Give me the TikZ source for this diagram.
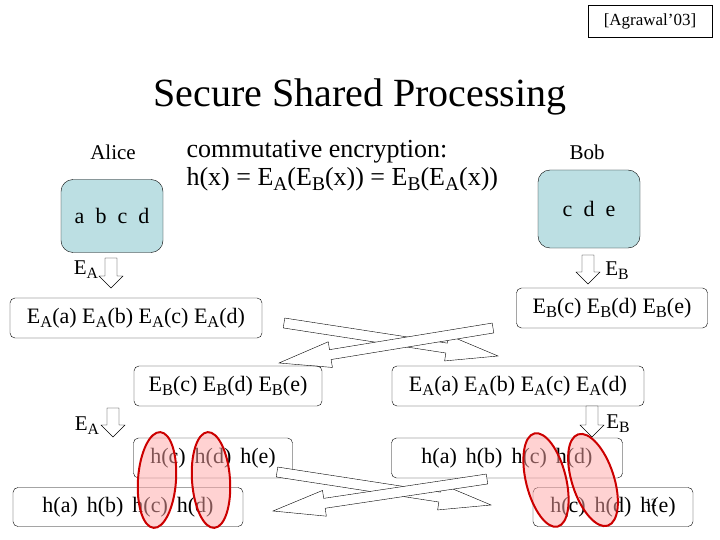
\documentclass[tikz,border=0pt]{standalone}
\usepackage{fontspec}
\setmainfont{Liberation Serif}
\usetikzlibrary{calc,shapes.geometric}
\definecolor{alicebox}{HTML}{BCDFE3}
\newcommand\sbx[1]{\raisebox{-0.4ex}{\scalebox{0.75}{#1}}}
\newcommand\EE[1]{E\sbx{#1}}
\newcommand\gap{\hspace{9pt}}
\newcommand\harrow[5]{%
  \coordinate (hc) at ($(#2)!#5pt!(#1)$);
  \draw[fill=white,line join=miter] ($(#1)!#3pt!90:(#2)$) -- ($(hc)!#3pt!-90:(#1)$) -- ($(hc)!#4pt!-90:(#1)$) -- (#2)
    -- ($(hc)!#4pt!90:(#1)$) -- ($(hc)!#3pt!90:(#1)$) -- ($(#1)!#3pt!-90:(#2)$) -- cycle;}
\begin{document}
\begin{tikzpicture}[x=1pt,y=-1pt,
  box/.style={draw,rounded corners=5pt,inner sep=0pt,font=\fontsize{22}{24}\selectfont},
  lbl/.style={font=\fontsize{21}{23}\selectfont},
  hl/.style={ellipse,draw=red!80!black,line width=2pt,fill=red!35,fill opacity=0.5,minimum width=38pt,minimum height=96pt}]
\useasboundingbox (0,0) rectangle (720,540);
\node[draw,inner sep=0pt,minimum width=124pt,minimum height=32pt,font=\fontsize{17}{19}\selectfont] (ref) at (650,21) {[Agrawal’03]};
\node[font=\fontsize{40}{44}\selectfont] (title) at (360,97) {Secure Shared Processing};
\node[lbl] (alice) at (113,152) {Alice};
\node[lbl] (bob) at (587,152) {Bob};
\node[anchor=west,align=left,font=\fontsize{26}{28}\selectfont] (comm) at (183,166) {commutative encryption:\\h(x) = \EE{A}(\EE{B}(x)) = \EE{B}(\EE{A}(x))};
\node[box,fill=alicebox,rounded corners=12pt,minimum width=102pt,minimum height=73pt,font=\fontsize{22}{24}\selectfont] (abox) at (112,216) {a\ \ b\ \ c\ \ d};
\node[box,fill=alicebox,rounded corners=12pt,minimum width=102pt,minimum height=78pt,font=\fontsize{22}{24}\selectfont] (bbox) at (589,209) {c\ \ d\ \ e};
% down arrows
\coordinate (a1s) at (111,258); \coordinate (a1e) at (111,288);
\harrow{a1s}{a1e}{6}{12}{12}
\node[lbl] (ea1) at (86,270) {\EE{A}};
\coordinate (b1s) at (588,255); \coordinate (b1e) at (588,284);
\harrow{b1s}{b1e}{6}{12}{12}
\node[lbl] (eb1) at (617,271) {\EE{B}};
\node[box,minimum width=252pt,minimum height=40pt] (r1l) at (136,318) {\EE{A}(a) \EE{A}(b) \EE{A}(c) \EE{A}(d)};
\node[box,minimum width=191pt,minimum height=40pt] (r1r) at (612,308) {\EE{B}(c) \EE{B}(d) \EE{B}(e)};
% crossing arrows top
\coordinate (x1s) at (284,323); \coordinate (x1e) at (498,356);
\harrow{x1s}{x1e}{5}{13}{52}
\coordinate (x2s) at (493,328); \coordinate (x2e) at (279,363);
\harrow{x2s}{x2e}{5}{13}{52}
\node[box,minimum width=188pt,minimum height=40pt] (r2l) at (228,386) {\EE{B}(c) \EE{B}(d) \EE{B}(e)};
\node[box,minimum width=252pt,minimum height=40pt] (r2r) at (518,386) {\EE{A}(a) \EE{A}(b) \EE{A}(c) \EE{A}(d)};
\coordinate (a2s) at (113,408); \coordinate (a2e) at (113,437);
\harrow{a2s}{a2e}{6}{12}{12}
\node[lbl] (ea2) at (87,426) {\EE{A}};
\coordinate (b2s) at (592,406); \coordinate (b2e) at (592,437);
\harrow{b2s}{b2e}{6}{12}{12}
\node[lbl] (eb2) at (618,424) {\EE{B}};
\node[box,minimum width=159pt,minimum height=40pt] (r3l) at (213,458) {h(c)\gap h(d)\gap h(e)};
\node[box,minimum width=231pt,minimum height=40pt] (r3r) at (507,458) {h(a)\gap h(b)\gap h(c)\gap h(d)};
\coordinate (y1s) at (277,472); \coordinate (y1e) at (491,505);
\harrow{y1s}{y1e}{5}{13}{52}
\coordinate (y2s) at (487,479); \coordinate (y2e) at (273,511);
\harrow{y2s}{y2e}{5}{13}{52}
\node[box,minimum width=230pt,minimum height=39pt,fill=white] (r4l) at (128,507) {h(a)\gap h(b)\gap h(c)\gap h(d)};
\node[box,minimum width=160pt,minimum height=39pt,fill=white] (r4r) at (613,507) {h(c)\gap h(d)\gap h(e)};
\node[font=\fontsize{11}{12}\selectfont] (pg) at (651,503) {12};
\node[hl,rotate=-4] (e1) at (157,480) {};
\node[hl,rotate=4] (e2) at (211,480) {};
\node[hl,rotate=14,minimum width=40pt] (e3) at (546,480) {};
\node[hl,rotate=18,minimum width=42pt] (e4) at (593,480) {};
\end{tikzpicture}
\end{document}
